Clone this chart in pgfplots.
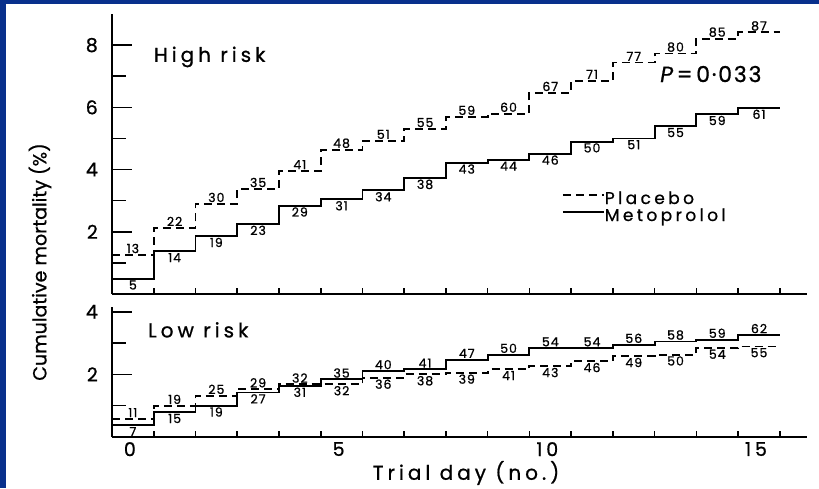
\documentclass[border=0pt]{standalone}
\usepackage{pgfplots}
\pgfplotsset{compat=1.18}
\usepackage{pgfplotstable}
\usepackage{fontspec}
\setmainfont{Poppins}[FakeBold=0.8]
\newfontfamily\spaced{Poppins}[LetterSpace=20, FakeBold=0.8]
\newfontfamily\numfont{Poppins}[LetterSpace=8, FakeBold=0.8]
\definecolor{frameblue}{RGB}{8,48,140}

% columns: trial day, cumulative mortality (%), number of deaths
\pgfplotstableread{
day pct n
0 1.26 13
1 2.13 22
2 2.90 30
3 3.38 35
4 3.96 41
5 4.64 48
6 4.93 51
7 5.31 55
8 5.70 59
9 5.80 60
10 6.47 67
11 6.86 71
12 7.44 77
13 7.73 80
14 8.21 85
15 8.41 87
16 8.41 87
}\highplacebo

\pgfplotstableread{
day pct n
0 0.49 5
1 1.37 14
2 1.86 19
3 2.25 23
4 2.84 29
5 3.04 31
6 3.33 34
7 3.73 38
8 4.22 43
9 4.31 44
10 4.51 46
11 4.90 50
12 5.00 51
13 5.39 55
14 5.78 59
15 5.98 61
16 5.98 61
}\highmeto

\pgfplotstableread{
day pct n
0 0.58 11
1 1.00 19
2 1.32 25
3 1.53 29
4 1.68 32
5 1.68 32
6 1.89 36
7 2.00 38
8 2.05 39
9 2.16 41
10 2.26 43
11 2.42 46
12 2.58 49
13 2.63 50
14 2.84 54
15 2.89 55
16 2.89 55
}\lowplacebo

\pgfplotstableread{
day pct n
0 0.37 7
1 0.79 15
2 1.00 19
3 1.42 27
4 1.63 31
5 1.84 35
6 2.11 40
7 2.16 41
8 2.47 47
9 2.63 50
10 2.84 54
11 2.84 54
12 2.95 56
13 3.05 58
14 3.11 59
15 3.26 62
16 3.26 62
}\lowmeto

\pgfplotsset{
  panel/.style={
    scale only axis, width=695pt,
    xmin=-0.5, xmax=16.15, ymin=0,
    axis x line*=bottom, axis y line*=left,
    axis line style={line width=2.4pt, -},
    tick align=inside,
    major tick length=20pt, minor tick length=14pt,
    every tick/.style={line width=1.6pt, black},
    /pgf/number format/assume math mode=true,
    yticklabel style={anchor=east, inner sep=0pt, xshift=-14pt,
      font=\spaced\fontsize{19}{19}\selectfont},
    xticklabel style={anchor=north, inner sep=0pt, yshift=-5pt, xshift=-3pt,
      font=\spaced\fontsize{19}{19}\selectfont},
    xtick style={draw=none},
    extra x ticks={0.5,1.5,...,15.5},
    extra x tick labels={},
    extra x tick style={major tick length=6pt, xtick style={draw=black}},
    clip=false,
  },
  placebo/.style={const plot, line width=1.9pt, dash pattern=on 8pt off 5pt},
  meto/.style={const plot, line width=1.9pt},
  count/.style={draw=none, forget plot, nodes near coords,
    point meta=explicit symbolic,
    nodes near coords style={font=\numfont\fontsize{12.5}{12.5}\selectfont,
      inner sep=1.5pt, anchor=#1}},
}

\begin{document}
\begin{tikzpicture}[x=1pt, y=1pt]
% frame
\fill[frameblue] (0,0) rectangle (819,488);
\fill[white] (6,0) rectangle (819,484);

% High risk panel
\begin{axis}[panel, at={(112pt,194pt)}, anchor=south west,
    height=280pt, ymax=9,
    ytick={2,4,6,8}, minor ytick={1,3,5,7},
    xtick=\empty,
    legend style={at={(axis cs:10.28,2.78)}, anchor=west, draw=none,
      fill=none, inner sep=0pt, outer sep=0pt, row sep=3pt,
      font=\spaced\fontsize{17}{17}\selectfont,
      nodes={inner sep=0pt, text height=12pt, text depth=2pt},
      /tikz/every even column/.append style={column sep=5pt}},
    legend cell align=left,
    legend image code/.code={\draw[#1] (0pt,4pt) -- (41pt,4pt);},
  ]
  \addplot[placebo] table[x expr=\thisrow{day}-0.5, y=pct] {\highplacebo};
  \addlegendentry{Placebo}
  \addplot[meto] table[x expr=\thisrow{day}-0.5, y=pct] {\highmeto};
  \addlegendentry{Metoprolol}
  \addplot[count=south, restrict x to domain=-1:15.5]
    table[x=day, y=pct, meta=n] {\highplacebo};
  \addplot[count=north, restrict x to domain=-1:15.5]
    table[x=day, y=pct, meta=n] {\highmeto};
  \node[anchor=west, inner sep=0pt, font=\spaced\fontsize{20}{20}\selectfont]
    at (axis cs:0.5,7.62) {High risk};
  \node[anchor=west, inner sep=0pt, font=\numfont\fontsize{22}{22}\selectfont]
    at (axis cs:12.63,7.07) {{\itshape P}\,=\,0·033};
\end{axis}

% Low risk panel
\begin{axis}[panel, at={(112pt,51pt)}, anchor=south west,
    height=130pt, ymax=4.15,
    ytick={2,4}, minor ytick={1,3},
    xtick={0,5,10,15},
  ]
  \addplot[placebo] table[x expr=\thisrow{day}-0.5, y=pct] {\lowplacebo};
  \addplot[meto] table[x expr=\thisrow{day}-0.5, y=pct] {\lowmeto};
  \addplot[count=south, restrict x to domain=-1:4.5]
    table[x=day, y=pct, meta=n] {\lowplacebo};
  \addplot[count=north, restrict x to domain=4.5:15.5]
    table[x=day, y=pct, meta=n] {\lowplacebo};
  \addplot[count=north, restrict x to domain=-1:4.5]
    table[x=day, y=pct, meta=n] {\lowmeto};
  \addplot[count=south, restrict x to domain=4.5:15.5]
    table[x=day, y=pct, meta=n] {\lowmeto};
  \node[anchor=west, inner sep=0pt, font=\spaced\fontsize{20}{20}\selectfont]
    at (axis cs:0.36,3.42) {Low risk};
\end{axis}

\node[font=\spaced\fontsize{20}{20}\selectfont] at (466,15) {Trial day (no.)};
\node[rotate=90, font=\fontsize{19}{19}\selectfont] at (40,226)
  {Cumulative mortality (\%)};

\pgfresetboundingbox
\path[use as bounding box] (0,0) rectangle (819,488);
\end{tikzpicture}
\end{document}
